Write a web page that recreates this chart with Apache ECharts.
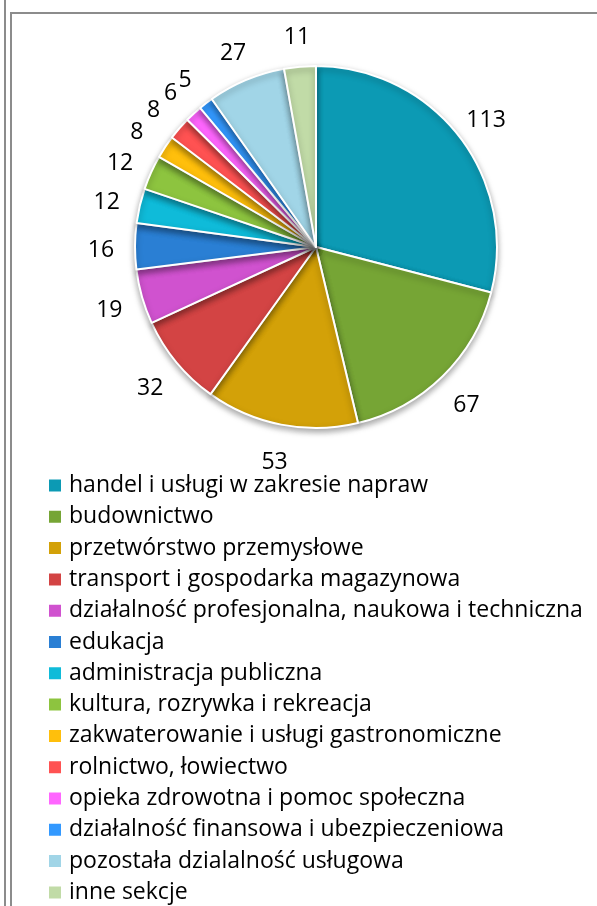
<!DOCTYPE html>
<html>
<head>
<meta charset="utf-8">
<script src="https://cdn.jsdelivr.net/npm/echarts@6/dist/echarts.min.js"></script>
<style>
  html, body { margin: 0; padding: 0; background: #fff; }
  #main { width: 597px; height: 906px; position: relative; }
  .ln { position: absolute; background: #8c8c8c; }
</style>
</head>
<body>
<div id="main"></div>
<div class="ln" style="left:4px;top:0;width:2px;height:906px"></div>
<div class="ln" style="left:10px;top:12px;width:2px;height:894px"></div>
<div class="ln" style="left:10px;top:12px;width:587px;height:2px"></div>
<script>
// sekcje PKD
var categories = [
  'handel i usługi w zakresie napraw',
  'budownictwo',
  'przetwórstwo przemysłowe',
  'transport i gospodarka magazynowa',
  'działalność profesjonalna, naukowa i techniczna',
  'edukacja',
  'administracja publiczna',
  'kultura, rozrywka i rekreacja',
  'zakwaterowanie i usługi gastronomiczne',
  'rolnictwo, łowiectwo',
  'opieka zdrowotna i pomoc społeczna',
  'działalność finansowa i ubezpieczeniowa',
  'pozostała dzialalność usługowa',
  'inne sekcje'
]
var values = [113, 67, 53, 32, 19, 16, 12, 12, 8, 8, 6, 5, 27, 11]
var colors = [
  '#0c9ab4', '#76a535', '#d3a108', '#d34444', '#d052cf', '#2a7fd4', '#0fbbd9',
  '#8dc43f', '#ffbf0c', '#ff5252', '#ff66ff', '#3399ff', '#a1d5e7', '#c1dba7'
]

var fontFamily = '"Open Sans", "Noto Sans", sans-serif'
var chart = echarts.init(document.getElementById('main'))

var pieData = []
var labelData = []
for (var i = 0; i < categories.length; i++) {
  pieData.push({ name: categories[i], value: values[i] })
  labelData.push({ name: categories[i], value: values[i] })
}

var option = {
  animation: false,
  color: colors,
  legend: {
    orient: 'vertical',
    left: 47,
    top: 474,
    height: 500,
    padding: 0,
    icon: 'rect',
    itemWidth: 14,
    itemHeight: 14,
    itemGap: 8.3,
    textStyle: {
      fontFamily: fontFamily,
      fontSize: 23,
      color: '#000',
      padding: [0, 0, 0, 2]
    },
    data: categories
  },
  series: [
    {
      type: 'pie',
      center: [316, 247],
      radius: [0, 181],
      startAngle: 90,
      clockwise: true,
      itemStyle: {
        borderColor: '#fff',
        borderWidth: 2,
        shadowColor: 'rgba(0,0,0,0.35)',
        shadowBlur: 6,
        shadowOffsetY: 3
      },
      label: { show: false },
      labelLine: { show: false },
      emphasis: { disabled: true },
      data: pieData
    },
    {
      // niewidoczny pierścień tylko dla etykiet
      type: 'pie',
      silent: true,
      center: [316, 247],
      radius: [181, 243],
      startAngle: 90,
      clockwise: true,
      itemStyle: { color: 'rgba(0,0,0,0)' },
      label: {
        show: true,
        position: 'inside',
        formatter: '{v|{c}}',
        rich: {
          v: {
            fontFamily: fontFamily,
            fontSize: 23,
            color: '#000',
            padding: [9, 0, 0, 0]
          }
        }
      },
      labelLine: { show: false },
      emphasis: { disabled: true },
      data: labelData
    }
  ]
}
chart.setOption(option)
</script>
</body>
</html>
